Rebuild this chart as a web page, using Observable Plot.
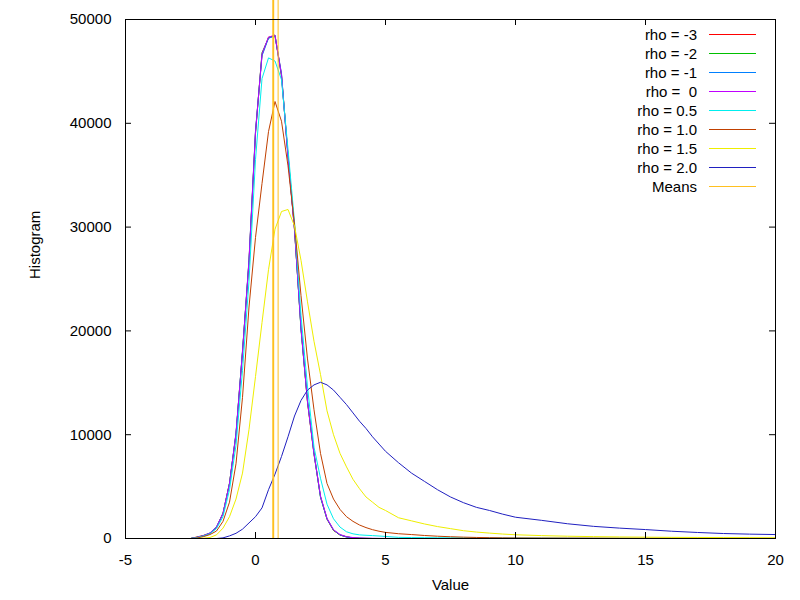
<!DOCTYPE html>
<html><head><meta charset="utf-8">
<script src="https://cdn.jsdelivr.net/npm/d3@7"></script>
<script src="https://cdn.jsdelivr.net/npm/@observablehq/plot@0.6"></script>
<style>
body{margin:0;background:#fff;}
#wrap{position:relative;width:800px;height:600px;font-family:"Liberation Sans",Arial,sans-serif;}
#legend{position:absolute;left:560px;top:25px;font-size:15px;color:#000;}
.row{display:flex;align-items:center;height:19px;}
.lab{width:137px;text-align:right;white-space:pre;}
.sw{margin-left:12px;width:47px;height:0;border-top:1px solid;}
</style></head><body><div id="wrap"></div>
<script>
const xValues = [-2.5,-2.25,-2,-1.75,-1.5,-1.25,-1,-0.75,-0.5,-0.25,0,0.25,0.5,0.75,1,1.25,1.5,1.75,2,2.25,2.5,2.75,3,3.25,3.5,3.75,4,4.25,4.5,4.75,5,5.5,6,6.5,7,7.5,8,8.5,9,9.5,10,11,12,13,14,15,16,17,18,19,20];

const rhoM3 = [0,150,300,520,1100,2450,5300,10100,17900,26800,39200,46600,48300,48400,44700,36900,29700,20300,13100,8100,4050,1850,780,340,150,60,20,10,0,0,0,0,0,0,0,0,0,0,0,0,0,0,0,0,0,0,0,0,0,0,0];
const rhoM2 = [0,120,260,500,1050,2380,5350,10000,18100,26600,39000,46800,48200,48500,44500,37000,29900,20100,13200,8250,3950,1900,800,330,160,50,20,10,0,0,0,0,0,0,0,0,0,0,0,0,0,0,0,0,0,0,0,0,0,0,0];
const rhoM1 = [0,100,280,540,1120,2420,5250,10200,18000,26900,39300,46500,48200,48400,44800,36700,29800,20200,13300,8150,4000,1880,820,360,140,70,30,10,0,0,0,0,0,0,0,0,0,0,0,0,0,0,0,0,0,0,0,0,0,0,0];
const rho0  = [0,110,270,510,1080,2400,5300,10050,17950,26700,39100,46700,48300,48500,44600,36800,29800,20300,13200,8200,4100,1950,850,380,180,90,50,30,20,10,10,0,0,0,0,0,0,0,0,0,0,0,0,0,0,0,0,0,0,0,0];
const rho05 = [0,80,240,450,950,2100,4700,9000,16200,24800,36500,44300,46300,46000,44200,37500,30500,21500,14600,8800,5800,3300,1900,1100,650,450,350,310,280,240,200,110,90,80,70,70,65,60,60,55,50,40,30,20,20,10,10,10,0,0,0];
const rho10 = [0,40,180,380,720,1650,3500,7200,13600,22300,29000,34200,39200,42100,40200,35900,30300,23400,17300,12400,8200,5300,3800,2800,2100,1650,1300,1050,850,700,590,460,380,290,220,170,130,100,80,65,55,45,40,35,30,30,25,25,20,20,20];
const rho15 = [0,0,30,100,350,1000,2100,3800,6300,10500,15600,20800,25900,29800,31500,31700,30100,26800,22800,19000,15800,12300,10000,8200,6900,5700,4800,4000,3500,3000,2700,2000,1700,1400,1150,950,750,620,520,430,360,280,220,180,150,130,110,100,90,80,70];
const rho20 = [0,0,0,0,0,60,250,500,900,1500,2100,2950,4700,6200,7900,9800,11800,13300,14300,14800,15050,14800,14300,13600,12900,12100,11300,10600,9800,9100,8400,7300,6300,5500,4700,4000,3450,3000,2700,2350,2050,1750,1420,1170,1000,860,700,580,480,420,380];

const seriesNames = ["rho = -3","rho = -2","rho = -1","rho =  0","rho = 0.5","rho = 1.0","rho = 1.5","rho = 2.0"];
const seriesColors = ["#ff0000","#00c000","#0080ff","#c000ff","#00eeee","#c04000","#eeee00","#2020c0"];
const meanLabel = "Means";
const meanColor = "#ffc020";
const meanValues = [0.67,0.68,0.69,0.70,0.87];
const xTicks = [-5,0,5,10,15,20];
const yTicks = [0,10000,20000,30000,40000,50000];
const xLabel = "Value";
const yLabel = "Histogram";

const allSeries = [rhoM3, rhoM2, rhoM1, rho0, rho05, rho10, rho15, rho20];

const lineMarks = allSeries.map((vals, i) =>
  Plot.line(xValues.map((x, j) => ({x, y: vals[j]})), {x: "x", y: "y", stroke: seriesColors[i], strokeWidth: 1})
);

const chart = Plot.plot({
  width: 800, height: 600,
  marginLeft: 125, marginRight: 25, marginTop: 19, marginBottom: 62,
  style: {fontFamily: "'Liberation Sans', Arial, sans-serif", fontSize: "15px", background: "white", color: "black", overflow: "visible"},
  x: {domain: [-5, 20]},
  y: {domain: [0, 50000]},
  marks: [
    ...lineMarks,
    Plot.ruleX(meanValues, {x: d => d, stroke: meanColor, strokeWidth: 1, insetTop: -19}),
    Plot.frame({stroke: "black", strokeWidth: 1}),
    Plot.tickX(xTicks, {x: d => d, stroke: "black", insetTop: 513}),
    Plot.tickX(xTicks, {x: d => d, stroke: "black", insetBottom: 513}),
    Plot.tickY(yTicks, {y: d => d, stroke: "black", insetRight: 644}),
    Plot.tickY(yTicks, {y: d => d, stroke: "black", insetLeft: 644}),
    Plot.axisX(xTicks, {tickSize: 0, tickPadding: 16, label: null, tickFormat: d => String(d)}),
    Plot.axisY(yTicks, {tickSize: 0, tickPadding: 14, label: null, tickFormat: d => String(d)}),
    Plot.text([xLabel], {frameAnchor: "bottom", dy: 51, text: d => d}),
    Plot.text([yLabel], {frameAnchor: "left", dx: -90, rotate: -90, text: d => d})
  ]
});

const wrap = document.getElementById("wrap");
wrap.appendChild(chart);

const legend = document.createElement("div");
legend.id = "legend";
const entries = seriesNames.map((n, i) => [n, seriesColors[i]]).concat([[meanLabel, meanColor]]);
for (const [name, color] of entries) {
  const row = document.createElement("div");
  row.className = "row";
  const lab = document.createElement("span");
  lab.className = "lab";
  lab.textContent = name;
  const sw = document.createElement("span");
  sw.className = "sw";
  sw.style.borderTopColor = color;
  row.appendChild(lab);
  row.appendChild(sw);
  legend.appendChild(row);
}
wrap.appendChild(legend);
</script>
</body></html>
